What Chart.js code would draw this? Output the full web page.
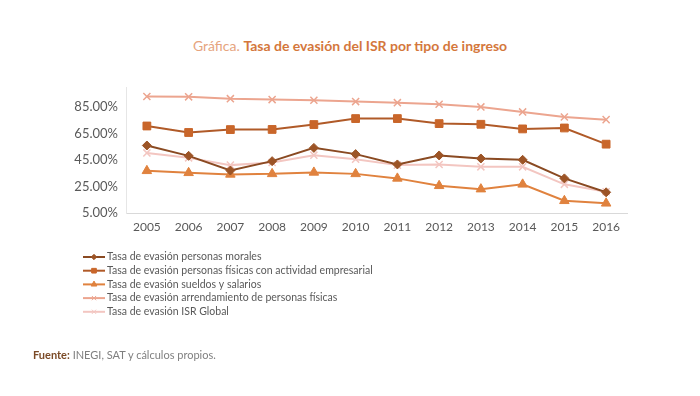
<!DOCTYPE html>
<html>
<head>
<meta charset="utf-8">
<script src="https://cdn.jsdelivr.net/npm/chart.js@4/dist/chart.umd.min.js"></script>
<style>
  html, body { margin: 0; padding: 0; background: #fff; }
  body { width: 700px; height: 396px; position: relative; overflow: hidden; font-family: Lato, "Open Sans", sans-serif; }
  #title { position: absolute; top: 37px; left: 0; width: 700px; text-align: center; font-size: 14px; color: #e6a47e; }
  #title b { color: #d4773c; font-weight: 700; }
  #source { position: absolute; top: 348px; left: 33px; font-size: 11px; color: #7f7f7f; }
  #source b { color: #7b4a26; }
  #chart { position: absolute; left: 0; top: 0; }
</style>
</head>
<body>
<div id="title">Gráfica. <b>Tasa de evasión del ISR por tipo de ingreso</b></div>
<canvas id="chart" width="700" height="396"></canvas>
<div id="source"><b>Fuente:</b> INEGI, SAT y cálculos propios.</div>
<script>
// Data (percent)
const years = ['2005', '2006', '2007', '2008', '2009', '2010', '2011', '2012', '2013', '2014', '2015', '2016'];
const morales      = [55.9, 48.1, 37.0, 44.1, 54.1, 49.4, 41.6, 48.4, 46.1, 45.1, 31.1, 20.6];
const empresarial  = [70.6, 65.7, 67.9, 68.0, 71.7, 76.2, 76.2, 72.4, 71.9, 68.4, 69.1, 56.9];
const salarios     = [36.8, 35.3, 34.1, 34.5, 35.6, 34.5, 31.1, 25.5, 23.0, 26.6, 14.2, 12.3];
const arrendamiento = [92.8, 92.6, 91.2, 90.5, 90.0, 89.0, 88.2, 87.0, 85.0, 81.2, 77.4, 75.4];
const isrGlobal    = [50.3, 46.6, 41.1, 43.1, 48.6, 45.6, 41.1, 41.6, 39.8, 39.8, 26.6, 21.0];
const yTicks = [5, 25, 45, 65, 85];

const axisColor = '#595959';

function series(label, data, color, lineColor, style, radius) {
    return {
        label: label,
        data: data,
        borderColor: lineColor,
        backgroundColor: color,
        pointBackgroundColor: color,
        pointBorderColor: color,
        pointStyle: style,
        pointRadius: radius,
        pointBorderWidth: style === 'crossRot' ? 1.5 : 1,
        borderWidth: 2,
        tension: 0,
        fill: false
    };
}

// Legend drawn as a vertical list under the plot, Excel style
const sideLegend = {
    id: 'sideLegend',
    afterDraw(chart) {
        const ctx = chart.ctx;
        const x0 = 83, y0 = 257, step = 13.7;
        ctx.save();
        chart.data.datasets.forEach((ds, i) => {
            const y = y0 + i * step;
            ctx.strokeStyle = ds.borderColor;
            ctx.lineWidth = 2;
            ctx.beginPath();
            ctx.moveTo(x0, y);
            ctx.lineTo(x0 + 22, y);
            ctx.stroke();
            ctx.fillStyle = ds.pointBackgroundColor;
            ctx.strokeStyle = ds.pointBorderColor;
            ctx.lineWidth = 1;
            Chart.helpers.drawPoint(ctx, { pointStyle: ds.pointStyle, radius: ds.pointRadius * 0.6, borderWidth: 1 }, x0 + 11, y);
            ctx.fillStyle = axisColor;
            ctx.font = '10.5px Lato, "Open Sans", sans-serif';
            ctx.textBaseline = 'middle';
            ctx.fillText(ds.label, x0 + 24, y);
        });
        ctx.restore();
    }
};

new Chart(document.getElementById('chart'), {
    type: 'line',
    data: {
        labels: years,
        datasets: [
            series('Tasa de evasión personas morales', morales, '#9c5426', '#8a4a22', 'rectRot', 4.5),
            series('Tasa de evasión personas físicas con actividad empresarial', empresarial, '#c9662a', '#b05a28', 'rect', 5.5),
            series('Tasa de evasión sueldos y salarios', salarios, '#e0823e', '#e0823e', 'triangle', 5.5),
            series('Tasa de evasión arrendamiento de personas físicas', arrendamiento, '#eca58f', '#eca58f', 'crossRot', 5),
            series('Tasa de evasión ISR Global', isrGlobal, '#f3c6c1', '#f3c6c1', 'crossRot', 5)
        ]
    },
    options: {
        responsive: false,
        animation: false,
        layout: { padding: { left: 60, right: 73, top: 87, bottom: 158 } },
        plugins: {
            legend: { display: false },
            title: { display: false },
            tooltip: { enabled: false }
        },
        scales: {
            x: {
                offset: true,
                grid: { display: false, drawTicks: false },
                border: { color: '#d9d9d9', width: 1 },
                ticks: { color: axisColor, font: { family: 'Lato', size: 12 }, padding: 7, maxRotation: 0 },
                afterFit(scale) { scale.height = 25; }
            },
            y: {
                min: 5,
                max: 100,
                grid: { display: false, drawTicks: false },
                border: { color: '#e6e6e6', width: 1 },
                afterBuildTicks(scale) { scale.ticks = yTicks.map(v => ({ value: v })); },
                afterFit(scale) { scale.width = 66; },
                ticks: {
                    color: axisColor,
                    font: { family: 'Lato', size: 13 },
                    padding: 8,
                    callback: v => v.toFixed(2) + '%'
                }
            }
        }
    },
    plugins: [sideLegend]
});
</script>
</body>
</html>
